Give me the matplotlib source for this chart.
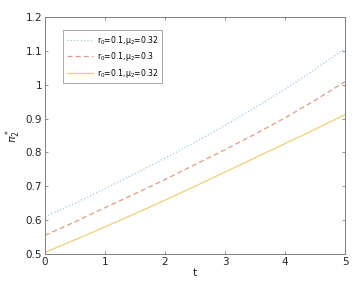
import numpy as np
import matplotlib.pyplot as plt
from matplotlib.ticker import FuncFormatter

plt.rcParams['font.family'] = 'DejaVu Sans'
plt.rcParams['mathtext.fontset'] = 'dejavusans'

t = [0, 0.5, 1, 1.5, 2, 2.5, 3, 3.5, 4, 4.5, 5]
pi_a = [0.610, 0.650, 0.693, 0.737, 0.783, 0.830, 0.880, 0.932, 0.987, 1.045, 1.107]
pi_b = [0.555, 0.595, 0.637, 0.678, 0.720, 0.764, 0.808, 0.854, 0.902, 0.954, 1.009]
pi_c = [0.505, 0.542, 0.580, 0.619, 0.659, 0.700, 0.742, 0.784, 0.826, 0.868, 0.912]
labels = [r'$\mathregular{r_0}$=0.1,$\mathregular{\mu_2}$=0.32',
          r'$\mathregular{r_0}$=0.1,$\mathregular{\mu_2}$=0.3',
          r'$\mathregular{r_0}$=0.1,$\mathregular{\mu_2}$=0.32']

fig = plt.figure(figsize=(3.58, 2.82), dpi=100)
ax = fig.add_axes([0.1257, 0.0993, 0.838, 0.8404])

ax.plot(t, pi_a, linestyle=':', color='#a6c9e2', lw=0.9, label=labels[0])
ax.plot(t, pi_b, linestyle=(0, (4, 2.5)), color='#dd9e80', lw=0.9, label=labels[1])
ax.plot(t, pi_c, linestyle='-', color='#eecf78', lw=0.9, label=labels[2])

ax.set_xlim(0, 5)
ax.set_ylim(0.5, 1.2)
ax.set_xticks([0, 1, 2, 3, 4, 5])
ax.set_yticks([0.5, 0.6, 0.7, 0.8, 0.9, 1.0, 1.1, 1.2])
ax.yaxis.set_major_formatter(FuncFormatter(lambda v, p: f'{v:g}'))
ax.tick_params(direction='in', length=2.5, width=0.6, labelsize=7.5,
               colors='#262626', top=True, right=True, pad=2)
for s in ax.spines.values():
    s.set_color('#7f7f7f')
    s.set_linewidth(0.7)
ax.tick_params(color='#7f7f7f')

ax.set_xlabel('t', fontsize=8, color='#262626', labelpad=1)
ax.set_ylabel(r'$\pi_2^*$', fontsize=8, color='#262626', labelpad=2)

leg = ax.legend(loc='upper left', bbox_to_anchor=(0.06, 0.945), borderaxespad=0,
                fontsize=5.6, frameon=True, fancybox=False, handlelength=3.4,
                handletextpad=0.5, borderpad=0.45, labelspacing=0.45)
leg.get_frame().set_edgecolor('#7f7f7f')
leg.get_frame().set_linewidth(0.6)

fig.savefig('out.png', dpi=100)
